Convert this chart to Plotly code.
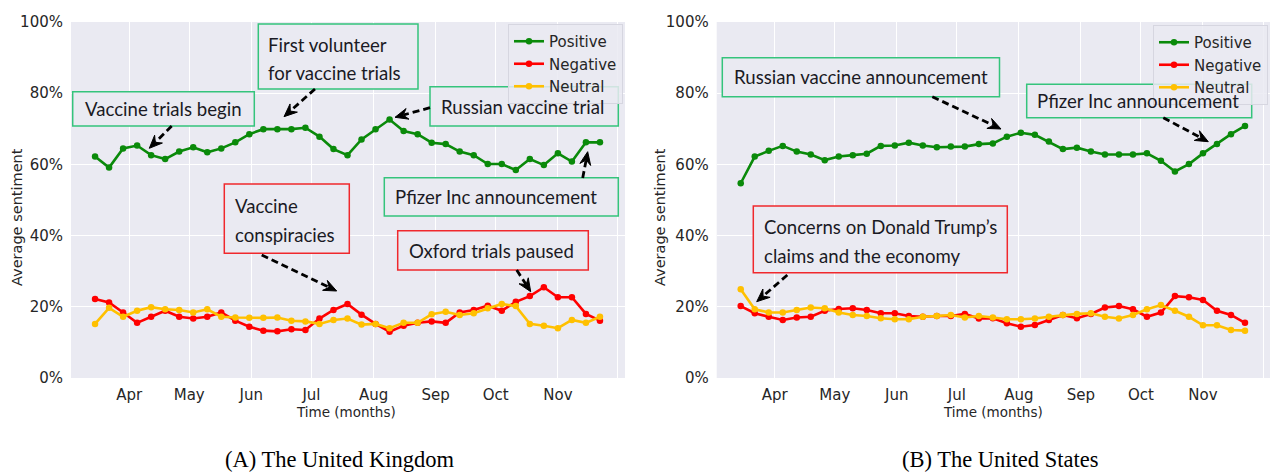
import math
import pandas as pd
import plotly.graph_objects as go

W, H = 1271, 472

# ---------------- data ----------------
dates = pd.date_range("2020-03-15", periods=37, freq="7D")

uk_positive = [0.622, 0.591, 0.645, 0.653, 0.626, 0.615, 0.636, 0.648, 0.634, 0.645,
               0.662, 0.685, 0.699, 0.699, 0.699, 0.703, 0.678, 0.643, 0.626, 0.670,
               0.699, 0.726, 0.694, 0.685, 0.661, 0.657, 0.636, 0.626, 0.601, 0.601,
               0.584, 0.615, 0.598, 0.631, 0.608, 0.662, 0.662]
uk_negative = [0.222, 0.212, 0.184, 0.155, 0.172, 0.189, 0.172, 0.167, 0.172, 0.184,
               0.161, 0.144, 0.133, 0.131, 0.137, 0.135, 0.167, 0.191, 0.208, 0.178,
               0.152, 0.130, 0.147, 0.155, 0.159, 0.155, 0.184, 0.191, 0.203, 0.189,
               0.214, 0.230, 0.255, 0.227, 0.227, 0.180, 0.161]
uk_neutral = [0.152, 0.197, 0.172, 0.189, 0.199, 0.193, 0.191, 0.184, 0.193, 0.172,
              0.170, 0.169, 0.169, 0.170, 0.161, 0.159, 0.152, 0.163, 0.167, 0.150,
              0.152, 0.140, 0.155, 0.155, 0.179, 0.186, 0.177, 0.182, 0.196, 0.208,
              0.202, 0.152, 0.147, 0.140, 0.163, 0.155, 0.172]

us_positive = [0.547, 0.622, 0.638, 0.652, 0.636, 0.628, 0.612, 0.622, 0.626, 0.630,
               0.652, 0.653, 0.661, 0.653, 0.648, 0.650, 0.650, 0.657, 0.659, 0.678,
               0.689, 0.683, 0.664, 0.643, 0.647, 0.636, 0.628, 0.628, 0.628, 0.631,
               0.610, 0.580, 0.601, 0.631, 0.657, 0.685, 0.708]
us_negative = [0.202, 0.182, 0.172, 0.163, 0.170, 0.172, 0.189, 0.194, 0.196, 0.191,
               0.182, 0.182, 0.174, 0.172, 0.174, 0.174, 0.180, 0.167, 0.168, 0.154,
               0.144, 0.149, 0.163, 0.177, 0.168, 0.180, 0.198, 0.202, 0.193, 0.172,
               0.184, 0.230, 0.227, 0.219, 0.189, 0.177, 0.155]
us_neutral = [0.249, 0.193, 0.184, 0.184, 0.191, 0.198, 0.196, 0.184, 0.177, 0.174,
              0.168, 0.165, 0.165, 0.172, 0.174, 0.177, 0.170, 0.174, 0.170, 0.165,
              0.165, 0.167, 0.172, 0.177, 0.180, 0.182, 0.172, 0.167, 0.177, 0.193,
              0.205, 0.189, 0.172, 0.148, 0.148, 0.135, 0.133]

series_names = ["Positive", "Negative", "Neutral"]
series_colors = ["#0a8a0a", "#FF0000", "#FFC000"]
month_ticks = ["2020-04-01", "2020-05-01", "2020-06-01", "2020-07-01", "2020-08-01",
               "2020-09-01", "2020-10-01", "2020-11-01", "2020-12-01"]
month_labels = ["Apr", "May", "Jun", "Jul", "Aug", "Sep", "Oct", "Nov", ""]
captions = ["(A) The United Kingdom", "(B) The United States"]


# ---------------- helpers ----------------
def X(px):
    return px / W


def Y(py):
    return 1 - py / H


GRID = "white"
BG = "#EAEAF2"
TXT = "#262626"
GREEN_BOX = "#35C47C"
RED_BOX = "#F0282D"
ANN_FONT = "Lato"

fig = go.Figure()

panels = [
    ("x", "y", "legend", [uk_positive, uk_negative, uk_neutral]),
    ("x2", "y2", "legend2", [us_positive, us_negative, us_neutral]),
]
for xa, ya, lg, vals in panels:
    for name, color, v in zip(series_names, series_colors, vals):
        fig.add_trace(go.Scatter(
            x=dates, y=v, name=name, mode="lines+markers",
            line=dict(color=color, width=2.6),
            marker=dict(color=color, size=6.5),
            xaxis=xa, yaxis=ya, legend=lg,
        ))

xrange_ = [dates[0] - pd.Timedelta(days=12), dates[-1] + pd.Timedelta(days=12.5)]
ydom = [Y(378), Y(22)]

axis_common_x = dict(
    type="date", range=xrange_, tickvals=month_ticks, ticktext=month_labels,
    showgrid=True, gridcolor=GRID, gridwidth=1.3, zeroline=False, showline=False,
    ticks="", ticklabelstandoff=6, automargin=False,
    tickfont=dict(family="DejaVu Sans", size=15, color=TXT),
)
axis_common_y = dict(
    range=[0, 1], tickvals=[0, 0.2, 0.4, 0.6, 0.8, 1.0], tickformat=".0%",
    showgrid=True, gridcolor=GRID, gridwidth=1.3, zeroline=False, showline=False,
    ticks="", ticklabelstandoff=7, automargin=False,
    tickfont=dict(family="DejaVu Sans", size=15, color=TXT),
)

legend_common = dict(
    xanchor="right", yanchor="top",
    bgcolor="rgba(234,234,242,0.85)", bordercolor="#D6D6E0", borderwidth=1,
    font=dict(family="DejaVu Sans", size=15, color=TXT),
    itemwidth=30, tracegroupgap=0,
)

fig.update_layout(
    width=W, height=H,
    margin=dict(l=0, r=0, t=0, b=0, pad=0, autoexpand=False),
    paper_bgcolor="white", plot_bgcolor=BG,
    xaxis=dict(domain=[X(71), X(625)], anchor="y", **axis_common_x),
    yaxis=dict(domain=ydom, anchor="x", **axis_common_y),
    xaxis2=dict(domain=[X(716.7), X(1270)], anchor="y2", **axis_common_x),
    yaxis2=dict(domain=ydom, anchor="x2", **axis_common_y),
    showlegend=True,
    legend=dict(x=X(623), y=Y(24), **legend_common),
    legend2=dict(x=X(1268), y=Y(25), **legend_common),
)

annotations = []
shapes = []

# axis titles
for cx in [17, 660]:
    annotations.append(dict(x=X(cx), y=Y(217), xref="paper", yref="paper",
                            text="Average sentiment", textangle=-90, showarrow=False,
                            font=dict(family="DejaVu Sans", size=14.5, color=TXT),
                            xanchor="center", yanchor="middle"))
for cx in [346, 993]:
    annotations.append(dict(x=X(cx), y=Y(412), xref="paper", yref="paper",
                            text="Time (months)", showarrow=False,
                            font=dict(family="DejaVu Sans", size=13.5, color=TXT),
                            xanchor="center", yanchor="middle"))

# captions
for cx, cap in zip([339, 1000], captions):
    annotations.append(dict(x=X(cx), y=Y(459), xref="paper", yref="paper",
                            text=cap, showarrow=False,
                            font=dict(family="Liberation Serif", size=22.5, color="black"),
                            xanchor="center", yanchor="middle"))

# callout boxes: (x0, y0, x1, y1, color, [(text, left, center_y), ...])
boxes = [
    (72.7, 91.7, 254.3, 126, GREEN_BOX, [("Vaccine trials begin", 82.7, 109)]),
    (258.3, 24, 418, 89, GREEN_BOX, [("First volunteer", 266, 45), ("for vaccine trials", 266, 73)]),
    (430, 86.7, 618.3, 126, GREEN_BOX, [("Russian vaccine trial", 439, 106.5)]),
    (384.3, 177.7, 618.3, 216, GREEN_BOX, [("Pfizer Inc announcement", 393, 197)]),
    (224.3, 184, 349.3, 253.3, RED_BOX, [("Vaccine", 233, 206), ("conspiracies", 233, 235)]),
    (397.7, 230.7, 588.3, 270, RED_BOX, [("Oxford trials paused", 406.7, 250.5)]),
    (722.3, 57.7, 999.5, 96.7, GREEN_BOX, [("Russian vaccine announcement", 731.7, 77)]),
    (1026.7, 84.3, 1251.7, 117.7, GREEN_BOX, [("Pfizer Inc announcement", 1035, 101)]),
    (753.3, 206, 1007.3, 272.7, RED_BOX, [("Concerns on Donald Trump\u2019s", 761.7, 227),
                                          ("claims and the economy", 761.7, 256)]),
]
for x0, y0, x1, y1, col, lines in boxes:
    shapes.append(dict(type="rect", xref="paper", yref="paper",
                       x0=X(x0), x1=X(x1), y0=Y(y1), y1=Y(y0),
                       line=dict(color=col, width=1.5), fillcolor=BG, layer="above"))
    for t, lx, cy in lines:
        annotations.append(dict(x=X(lx), y=Y(cy), xref="paper", yref="paper",
                                text=t, showarrow=False,
                                font=dict(family=ANN_FONT, size=18.6, color="#1a1a24"),
                                xanchor="left", yanchor="middle"))

# dashed arrows: (start_px, end_px)
arrows = [
    ((171.7, 126), (149.3, 148.3)),
    ((315, 89), (284, 116.7)),
    ((430, 107.7), (395, 117.3)),
    ((582.7, 178), (587.7, 151.7)),
    ((261.7, 255), (336.7, 291)),
    ((516.7, 270), (530.7, 291.7)),
    ((932.3, 96.7), (1001, 129)),
    ((1163.3, 117.7), (1208.3, 141.7)),
    ((787.3, 275), (756.7, 301.7)),
]
L, Wd = 13, 11
for (sx, sy), (ex, ey) in arrows:
    dx, dy = ex - sx, ey - sy
    d = math.hypot(dx, dy)
    ux, uy = dx / d, dy / d
    nx, ny = -uy, ux
    bx, by = ex - L * ux, ey - L * uy
    nbx, nby = ex - 0.65 * L * ux, ey - 0.65 * L * uy
    lx_, ly_ = ex - 0.7 * L * ux, ey - 0.7 * L * uy
    shapes.append(dict(type="line", xref="paper", yref="paper",
                       x0=X(sx), y0=Y(sy), x1=X(lx_), y1=Y(ly_),
                       line=dict(color="black", width=2.8, dash="7px,4px"), layer="above"))
    pts = [(ex, ey), (bx + nx * Wd / 2, by + ny * Wd / 2), (nbx, nby),
           (bx - nx * Wd / 2, by - ny * Wd / 2)]
    path = "M " + " L ".join(f"{X(px):.5f},{Y(py):.5f}" for px, py in pts) + " Z"
    shapes.append(dict(type="path", xref="paper", yref="paper", path=path,
                       fillcolor="black", line=dict(color="black", width=1), layer="above"))

fig.update_layout(annotations=annotations, shapes=shapes)

fig.write_html(
    "out.html",
    config={"displayModeBar": False},
    post_script="document.body.style.margin='0';document.body.style.overflow='hidden';",
)
